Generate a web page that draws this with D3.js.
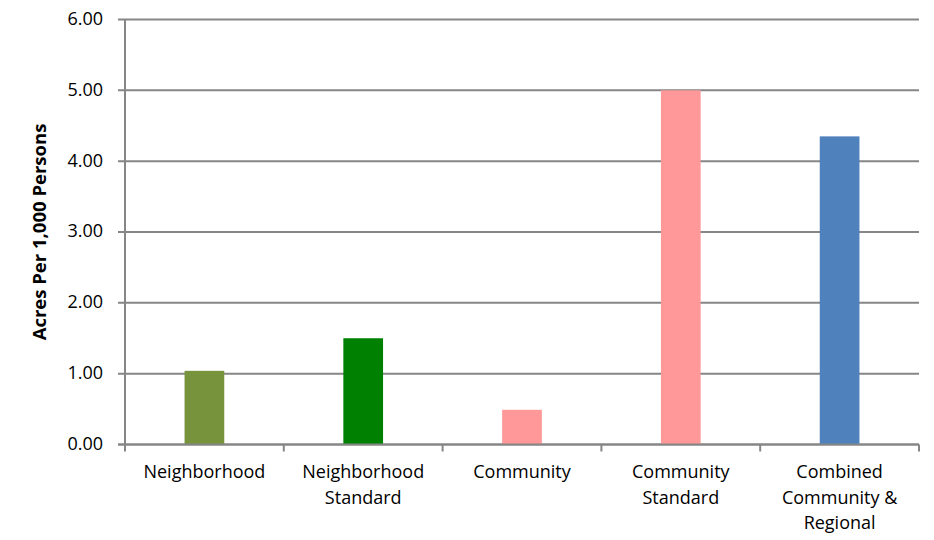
<!DOCTYPE html>
<html><head><meta charset="utf-8">
<script src="https://cdn.jsdelivr.net/npm/d3@7"></script>
<style>body{margin:0;background:#fff;} text{font-family:"Open Sans",Lato,sans-serif;fill:#000;}</style>
</head><body>
<svg id="c" width="934" height="540"></svg>
<script>
const categories = [["Neighborhood"],["Neighborhood","Standard"],["Community"],["Community","Standard"],["Combined","Community &","Regional"]];
const values = [1.04, 1.50, 0.49, 5.00, 4.35];
const colors = ["#77933C","#008000","#FF9999","#FF9999","#4F81BD"];
const yTicks = [0,1,2,3,4,5,6];
const yTitle = "Acres Per 1,000 Persons";

const svg = d3.select("#c");
const L=125, R=919, T=19.5, B=444.5;
const x = d3.scaleBand().domain(d3.range(categories.length)).range([L,R]).paddingInner(0.75).paddingOuter(0.375);
const y = d3.scaleLinear().domain([0,6]).range([B,T]);

// gridlines
svg.append("g").selectAll("line").data(yTicks).join("line")
 .attr("x1",L-7).attr("x2",R).attr("y1",d=>y(d)).attr("y2",d=>y(d))
 .attr("stroke","#868686").attr("stroke-width",2);
svg.append("g").selectAll("text").data(yTicks).join("text")
 .attr("x",L-22).attr("y",d=>y(d)).attr("dy","0.3em").attr("text-anchor","end")
 .style("font-size","18px").text(d=>d.toFixed(2));

// bars
svg.append("g").selectAll("rect").data(values).join("rect")
 .attr("x",(d,i)=>x(i)).attr("width",x.bandwidth())
 .attr("y",d=>y(d)).attr("height",d=>B-y(d)).attr("fill",(d,i)=>colors[i]);

// axes
svg.append("line").attr("x1",L).attr("x2",L).attr("y1",T).attr("y2",B+1).attr("stroke","#868686").attr("stroke-width",2);
svg.append("line").attr("x1",L-7).attr("x2",R).attr("y1",B).attr("y2",B).attr("stroke","#868686").attr("stroke-width",2);
const step = (R-L)/categories.length;
svg.append("g").selectAll("line").data(d3.range(categories.length+1)).join("line")
 .attr("x1",i=>L+i*step).attr("x2",i=>L+i*step).attr("y1",B).attr("y2",B+7)
 .attr("stroke","#868686").attr("stroke-width",2);

// category labels
const lab = svg.append("g").selectAll("text").data(categories).join("text")
 .attr("text-anchor","middle").style("font-size","18px")
 .attr("transform",(d,i)=>`translate(${x(i)+x.bandwidth()/2},${478})`);
lab.selectAll("tspan").data(d=>d).join("tspan").attr("x",0).attr("dy",(d,j)=>j===0?0:25.5).text(d=>d);

// y title
svg.append("text").attr("transform",`translate(46,${(T+B)/2}) rotate(-90)`)
 .attr("text-anchor","middle").style("font-size","18.5px").style("font-weight","bold").text(yTitle);
</script>
</body></html>
